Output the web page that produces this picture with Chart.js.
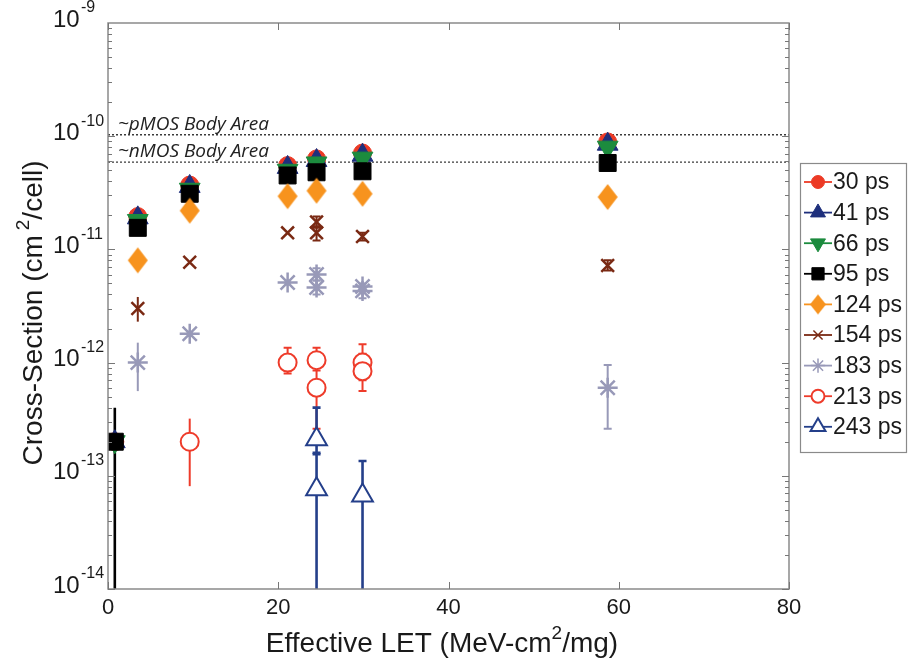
<!DOCTYPE html>
<html>
<head>
<meta charset="utf-8">
<script src="https://cdn.jsdelivr.net/npm/chart.js@4.4.0/dist/chart.umd.min.js"></script>
<style>
  html, body { margin: 0; padding: 0; background: #fff; }
</style>
</head>
<body>
<canvas id="myChart" width="916" height="665"></canvas>
<script>
// ---- data ----
// Effective LET positions shared by the 30/41/66/95 ps series
const letMain = [0.8, 3.5, 9.6, 21.1, 24.5, 29.9, 58.7];
const cs30 = [2.0e-13, 1.95e-11, 3.7e-11, 5.5e-11, 6.3e-11, 7.1e-11, 8.9e-11];
const cs41 = [2.0e-13, 1.9e-11, 3.6e-11, 5.3e-11, 6.1e-11, 6.8e-11, 8.5e-11];
const cs66 = [2.0e-13, 1.8e-11, 3.4e-11, 5.0e-11, 5.8e-11, 6.4e-11, 8.0e-11];
const cs95 = [2.0e-13, 1.55e-11, 3.1e-11, 4.5e-11, 4.8e-11, 4.9e-11, 5.8e-11];
const err95 = [[1e-16, 4.0e-13], null, null, null, null, null, null];

const let124 = [3.5, 9.6, 21.1, 24.5, 29.9, 58.7];
const cs124 = [8.0e-12, 2.2e-11, 2.95e-11, 3.3e-11, 3.1e-11, 2.9e-11];

const let154 = [3.5, 9.6, 21.1, 24.5, 24.5, 29.9, 58.7];
const cs154 = [3.0e-12, 7.7e-12, 1.4e-11, 1.75e-11, 1.4e-11, 1.3e-11, 7.2e-12];
const err154 = [[2.3e-12, 3.8e-12], null, null, [1.55e-11, 1.95e-11], [1.2e-11, 1.6e-11], [1.2e-11, 1.4e-11], [6.5e-12, 8.0e-12]];

const let183 = [3.5, 9.6, 21.1, 24.5, 24.5, 29.9, 29.9, 58.7];
const cs183 = [1.0e-12, 1.8e-12, 5.1e-12, 6.0e-12, 4.6e-12, 4.7e-12, 4.3e-12, 6.0e-13];
const err183 = [[5.6e-13, 1.5e-12], null, null, [5.3e-12, 6.8e-12], [4.0e-12, 5.3e-12], null, [3.7e-12, 5.0e-12], [2.6e-13, 9.5e-13]];

const let213 = [9.6, 21.1, 24.5, 24.5, 29.9, 29.9];
const cs213 = [2.0e-13, 1.0e-12, 1.05e-12, 6.0e-13, 1.0e-12, 8.4e-13];
const err213 = [[8.1e-14, 3.2e-13], [8.0e-13, 1.35e-12], [8.5e-13, 1.35e-12], [2.6e-13, 9.5e-13], [7.0e-13, 1.45e-12], [5.6e-13, 1.2e-12]];

const let243 = [24.5, 24.5, 29.9];
const cs243 = [2.1e-13, 7.6e-14, 6.7e-14];
const err243 = [[1.55e-13, 4.0e-13], [1e-16, 1.6e-13], [1e-16, 1.35e-13]];

const seriesNames = ['30 ps', '41 ps', '66 ps', '95 ps', '124 ps', '154 ps', '183 ps', '213 ps', '243 ps'];

const bodyNames = ['~pMOS Body Area', '~nMOS Body Area'];
const bodyArea = [1.03e-10, 5.9e-11];

const xTicks = [0, 20, 40, 60, 80];
const yDecades = [-14, -13, -12, -11, -10, -9];

// ---- helpers ----
const pts = (xs, ys) => xs.map((x, i) => ({ x: x, y: ys[i] }));

function diamond(color, w, h) {
  const c = document.createElement('canvas');
  c.width = w; c.height = h;
  const g = c.getContext('2d');
  g.fillStyle = color;
  g.beginPath();
  g.moveTo(w / 2, 1); g.lineTo(w - 1, h / 2); g.lineTo(w / 2, h - 1); g.lineTo(1, h / 2);
  g.closePath(); g.fill();
  return c;
}

const looks = [
  { color: '#ec3a25', style: 'circle', r: 9, fill: true },
  { color: '#1e2f7c', style: 'triangle', r: 12, fill: true },
  { color: '#1c8b3e', style: 'triangle', rot: 180, r: 12, fill: true },
  { color: '#000000', style: 'rect', r: 12, fill: true },
  { color: '#f7931e', style: diamond('#f7931e', 22, 28), legendStyle: diamond('#f7931e', 18, 22), r: 10, fill: true },
  { color: '#7a2913', style: 'crossRot', r: 9, bw: 2.5 },
  { color: '#9899b8', style: 'star', r: 10, bw: 2.5 },
  { color: '#ee3b2a', style: 'circle', r: 9, open: true },
  { color: '#243f8a', style: 'triangle', r: 12, open: true }
];

const seriesData = [
  pts(letMain, cs30), pts(letMain, cs41), pts(letMain, cs66), pts(letMain, cs95),
  pts(let124, cs124), pts(let154, cs154), pts(let183, cs183), pts(let213, cs213), pts(let243, cs243)
];
const seriesErr = [null, null, null, err95, null, err154, err183, err213, err243];

const datasets = seriesData.map((d, i) => {
  const lk = looks[i];
  return {
    label: seriesNames[i],
    data: d,
    order: -i,
    showLine: false,
    pointStyle: lk.style,
    pointRotation: lk.rot || 0,
    pointRadius: lk.r,
    pointHoverRadius: lk.r,
    backgroundColor: lk.open ? '#ffffff' : lk.color,
    borderColor: lk.color,
    pointBorderWidth: lk.bw || (lk.open ? 2 : 1),
    errBars: seriesErr[i]
  };
});

bodyArea.forEach((v, i) => {
  datasets.push({
    type: 'line',
    label: bodyNames[i],
    data: [{ x: 0, y: v }, { x: 80, y: v }],
    borderColor: '#3a3a3a',
    borderWidth: 1.4,
    borderDash: [2, 2],
    pointRadius: 0,
    order: 100
  });
});

function drawParts(c, parts, x, y) {
  // parts: [text, font, dy, gap]; x is left start
  let cx = x;
  parts.forEach(p => {
    c.font = p[1];
    c.fillText(p[0], cx, y + p[2]);
    cx += c.measureText(p[0]).width + (p[3] || 0);
  });
  return cx - x;
}
function partsWidth(c, parts) {
  let w = 0;
  parts.forEach(p => { c.font = p[1]; w += c.measureText(p[0]).width + (p[3] || 0); });
  return w;
}

const FONT = '"Liberation Sans", Arial, sans-serif';

const matlabAxes = {
  id: 'matlabAxes',
  beforeDatasetsDraw(chart) {
    const c = chart.ctx, a = chart.chartArea;
    const xs = chart.scales.x, ys = chart.scales.y;
    c.save();
    c.beginPath(); c.rect(a.left, a.top, a.right - a.left, a.bottom - a.top); c.clip();
    chart.data.datasets.forEach(ds => {
      if (!ds.errBars) return;
      c.strokeStyle = ds.borderColor;
      c.lineWidth = (ds.borderColor === '#000000' || ds.borderColor === '#243f8a') ? 2.6 : 2;
      ds.data.forEach((p, j) => {
        const e = ds.errBars[j];
        if (!e) return;
        const px = xs.getPixelForValue(p.x);
        const y1 = ys.getPixelForValue(e[0]);
        const y2 = ys.getPixelForValue(e[1]);
        c.beginPath();
        c.moveTo(px, y1); c.lineTo(px, y2);
        if (p.x >= 20) {
          c.moveTo(px - 4, y1); c.lineTo(px + 4, y1);
          c.moveTo(px - 4, y2); c.lineTo(px + 4, y2);
        }
        c.stroke();
      });
    });
    c.restore();
  },
  afterDraw(chart) {
    const c = chart.ctx, a = chart.chartArea;
    const xs = chart.scales.x, ys = chart.scales.y;
    c.save();

    // axes box
    c.strokeStyle = '#8a8a8a';
    c.lineWidth = 1.5;
    c.strokeRect(a.left, a.top, a.right - a.left, a.bottom - a.top);

    // ticks (inward, both sides)
    c.strokeStyle = '#777';
    c.lineWidth = 1;
    c.beginPath();
    xTicks.forEach(t => {
      const px = Math.round(xs.getPixelForValue(t)) + 0.5;
      c.moveTo(px, a.bottom); c.lineTo(px, a.bottom - 7);
      c.moveTo(px, a.top); c.lineTo(px, a.top + 7);
    });
    for (let d = -14; d < -9; d++) {
      for (let m = 1; m <= 9; m++) {
        const py = Math.round(ys.getPixelForValue(m * Math.pow(10, d))) + 0.5;
        const len = m === 1 ? 7 : 4;
        c.moveTo(a.left, py); c.lineTo(a.left + len, py);
        c.moveTo(a.right, py); c.lineTo(a.right - len, py);
      }
    }
    c.stroke();

    // tick labels
    c.fillStyle = '#1a1a1a';
    c.textBaseline = 'middle';
    c.textAlign = 'center';
    c.font = '22px ' + FONT;
    xTicks.forEach(t => c.fillText(String(t), xs.getPixelForValue(t), a.bottom + 19));
    c.textAlign = 'left';
    yDecades.forEach(d => {
      const py = ys.getPixelForValue(Math.pow(10, d));
      c.font = '24px ' + FONT;
      c.fillText('10', 53, py - 3);
      c.font = '16px ' + FONT;
      c.fillText(String(d), 81, py - 15);
    });

    // x title
    const xParts = [['Effective LET (MeV-cm', '28px ' + FONT, 0], ['2', '19px ' + FONT, -10], ['/mg)', '28px ' + FONT, 0]];
    const xw = partsWidth(c, xParts);
    drawParts(c, xParts, 442 - xw / 2, 644);

    // y title
    const yParts = [['Cross-Section (cm', '28px ' + FONT, 0, 5], ['2', '19px ' + FONT, -10], ['/cell)', '28px ' + FONT, 0]];
    const yw = partsWidth(c, yParts);
    c.save();
    c.translate(34, 313);
    c.rotate(-Math.PI / 2);
    drawParts(c, yParts, -yw / 2, 0);
    c.restore();

    // body area labels
    c.font = 'italic 19px "Open Sans", "DejaVu Sans", sans-serif';
    c.textBaseline = 'alphabetic';
    c.fillStyle = '#222';
    bodyArea.forEach((v, i) => {
      c.fillText(bodyNames[i], a.left + 10, ys.getPixelForValue(v) - 5);
    });

    // legend box
    const lx = 800, ly = 163, lw = 106, lh = 289, rowH = 30.6;
    c.fillStyle = '#fff';
    c.fillRect(lx, ly, lw, lh);
    c.strokeStyle = '#8a8a8a';
    c.lineWidth = 1.2;
    c.strokeRect(lx + 0.5, ly + 0.5, lw, lh);
    c.textBaseline = 'middle';
    c.font = '23px ' + FONT;
    seriesNames.forEach((n, i) => {
      const lk = looks[i];
      const cy = ly + 19 + i * rowH;
      c.strokeStyle = lk.color;
      c.lineWidth = 1.8;
      c.beginPath(); c.moveTo(lx + 4, cy); c.lineTo(lx + 32, cy); c.stroke();
      c.fillStyle = lk.open ? '#fff' : lk.color;
      c.lineWidth = lk.bw ? 1.5 : (lk.open ? 2 : 1);
      Chart.helpers.drawPoint(c, {
        pointStyle: lk.legendStyle || lk.style,
        rotation: lk.rot || 0,
        radius: lk.r * 0.72,
        borderWidth: c.lineWidth
      }, lx + 18, cy);
      c.fillStyle = '#1a1a1a';
      c.fillText(n, lx + 33, cy + 1);
    });
    c.restore();
  }
};

new Chart(document.getElementById('myChart'), {
  type: 'scatter',
  data: { datasets: datasets },
  options: {
    responsive: false,
    animation: false,
    events: [],
    layout: { padding: { left: 108, top: 23, right: 127, bottom: 76 } },
    scales: {
      x: { type: 'linear', min: 0, max: 80, display: false },
      y: { type: 'logarithmic', min: 1e-14, max: 1e-9, display: false }
    },
    plugins: {
      legend: { display: false },
      tooltip: { enabled: false }
    }
  },
  plugins: [matlabAxes]
});
</script>
</body>
</html>
